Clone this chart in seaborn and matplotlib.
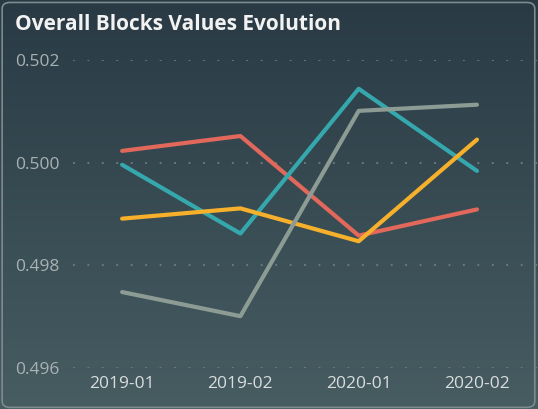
import numpy as np
import pandas as pd
import matplotlib
matplotlib.use("Agg")
import matplotlib.pyplot as plt
from matplotlib.patches import FancyBboxPatch
import seaborn as sns

# data
periods = ["2019-01", "2019-02", "2020-01", "2020-02"]
red_vals = [0.50023, 0.50052, 0.49858, 0.49909]
teal_vals = [0.49996, 0.49862, 0.50144, 0.49984]
yellow_vals = [0.49891, 0.49911, 0.49847, 0.50045]
gray_vals = [0.49748, 0.49701, 0.50101, 0.50113]
series_names = ["Block 1", "Block 2", "Block 3", "Block 4"]
palette = ["#E2685B", "#35A8AD", "#F6B02B", "#8C9B93"]
y_ticks = [0.496, 0.498, 0.500, 0.502]

df = pd.DataFrame({
    "period": periods * 4,
    "value": red_vals + teal_vals + yellow_vals + gray_vals,
    "block": np.repeat(series_names, len(periods)),
})
df["x"] = df["period"].map({p: i for i, p in enumerate(periods)})

sns.set_style("dark")
plt.rcParams["font.family"] = ["Open Sans", "DejaVu Sans"]

fig = plt.figure(figsize=(5.38, 4.09), dpi=100)

# gradient background
bg = fig.add_axes([0, 0, 1, 1], zorder=-2)
grad = np.linspace(0, 1, 256).reshape(-1, 1)
top = np.array([0x29, 0x3A, 0x44]) / 255
bot = np.array([0x47, 0x5D, 0x62]) / 255
img = top + (bot - top) * grad[..., None]
bg.imshow(img, aspect="auto", extent=[0, 1, 0, 1], origin="upper")
bg.set_axis_off()
bg.add_patch(FancyBboxPatch((0.004, 0.004), 0.99, 0.99,
                            boxstyle="round,pad=0,rounding_size=0.015",
                            transform=bg.transAxes, fill=False,
                            edgecolor="#7E8B8F", linewidth=1.2))

ax = fig.add_axes([0.136, 0.1002, 0.864, 0.753])
ax.set_facecolor("none")
sns.lineplot(data=df, x="x", y="value", hue="block", palette=palette,
             linewidth=3, legend=False, ax=ax)

ax.set_xlim(-0.414, 3.516)
ax.set_ylim(0.496, 0.502)
ax.set_xticks(range(len(periods)))
ax.set_xticklabels(periods)
ax.set_yticks(y_ticks)
ax.set_yticklabels([f"{v:.3f}" for v in y_ticks])
for lbl in ax.get_yticklabels():
    lbl.set_horizontalalignment("left")
ax.tick_params(axis="y", pad=42, length=0, labelsize=12.5, labelcolor="#A9B1B3")
ax.tick_params(axis="x", pad=6, length=0, labelsize=12.5, labelcolor="#D9DDDE")
ax.grid(axis="y", color="#6F7E83", linestyle=(0, (1, 7)), linewidth=1.3)
ax.grid(axis="x", visible=False)
ax.set_xlabel("")
ax.set_ylabel("")
for s in ax.spines.values():
    s.set_visible(False)

fig.text(0.028, 0.94, "Overall Blocks Values Evolution", color="#F2F2F2",
         fontsize=15, fontweight="bold", ha="left", va="center")

fig.savefig("out.png", dpi=100)
